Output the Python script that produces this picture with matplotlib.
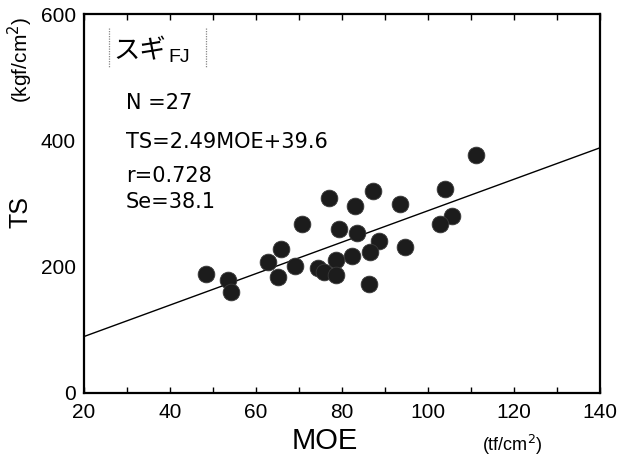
import matplotlib
matplotlib.use("Agg")
import matplotlib.pyplot as plt
import numpy as np

moe = [111.1, 104.0, 87.3, 77.0, 83.0, 93.5, 70.6, 79.4, 83.4, 105.6, 102.8,
       65.9, 88.7, 86.5, 94.7, 82.4, 78.5, 62.7, 69.0, 74.5, 75.8, 78.5, 65.0,
       86.3, 48.4, 53.6, 54.1]
ts = [377, 323, 320, 309, 296, 300, 267, 260, 254, 280, 267,
      228, 240, 224, 231, 217, 211, 207, 201, 198, 192, 187, 184,
      172, 188, 179, 160]
slope, intercept = 2.49, 39.6
x_ticks = [20, 40, 60, 80, 100, 120, 140]
y_ticks = [0, 200, 400, 600]

plt.rcParams['font.family'] = ['Liberation Sans', 'Noto Sans CJK JP', 'DejaVu Sans']

fig = plt.figure(figsize=(6.17, 4.62), dpi=100)
ax = fig.add_axes([84/617, 1-393/462, 516/617, 379/462])

ax.scatter(moe, ts, s=145, color='#1c1c1c', edgecolors='#3a3a3a', linewidths=0.6, zorder=3)
xl = np.array([20, 140])
ax.plot(xl, slope*xl + intercept, color='black', lw=1.0, zorder=2)

ax.set_xlim(20, 140)
ax.set_ylim(0, 600)
ax.set_xticks(x_ticks)
ax.set_xticks(np.arange(20, 141, 10), minor=True)
ax.set_yticks(y_ticks)
ax.tick_params(axis='x', which='both', direction='in', top=True, length=4, width=1, labelsize=15, pad=7)
ax.tick_params(axis='y', which='both', length=0, labelsize=15, pad=6)
for sp in ax.spines.values():
    sp.set_linewidth(1.6)

def dx(px):
    return 20 + (px - 84) / 4.3

def dy(py):
    return (393 - py) / 0.6317

for label, py in [('N =27', 103), ('TS=2.49MOE+39.6', 142), ('r=0.728', 176), ('Se=38.1', 202)]:
    ax.text(dx(126), dy(py), label, fontsize=15, va='center', ha='left', family='DejaVu Sans')

ax.text(dx(113), dy(51), 'スギ', fontsize=19, va='center', ha='left',
        family=['Noto Sans CJK JP', 'DejaVu Sans'])
ax.text(dx(168), dy(57), 'FJ', fontsize=14, va='center', ha='left')
for px in (109, 206):
    ax.plot([dx(px), dx(px)], [dy(28), dy(68)], color='#888888', lw=0.9, ls=(0, (1, 1)))

fig.text(325/617, 1-441/462, 'MOE', fontsize=21, ha='center', va='center')
fig.text(512/617, 1-445/462, '(tf/cm$^2$)', fontsize=13, ha='center', va='center')
fig.text(20/617, 1-212/462, 'TS', fontsize=18, ha='center', va='center', rotation=90)
fig.text(20/617, 1-60/462, '(kgf/cm$^2$)', fontsize=15, ha='center', va='center', rotation=90)

fig.savefig('out.png', dpi=100)
